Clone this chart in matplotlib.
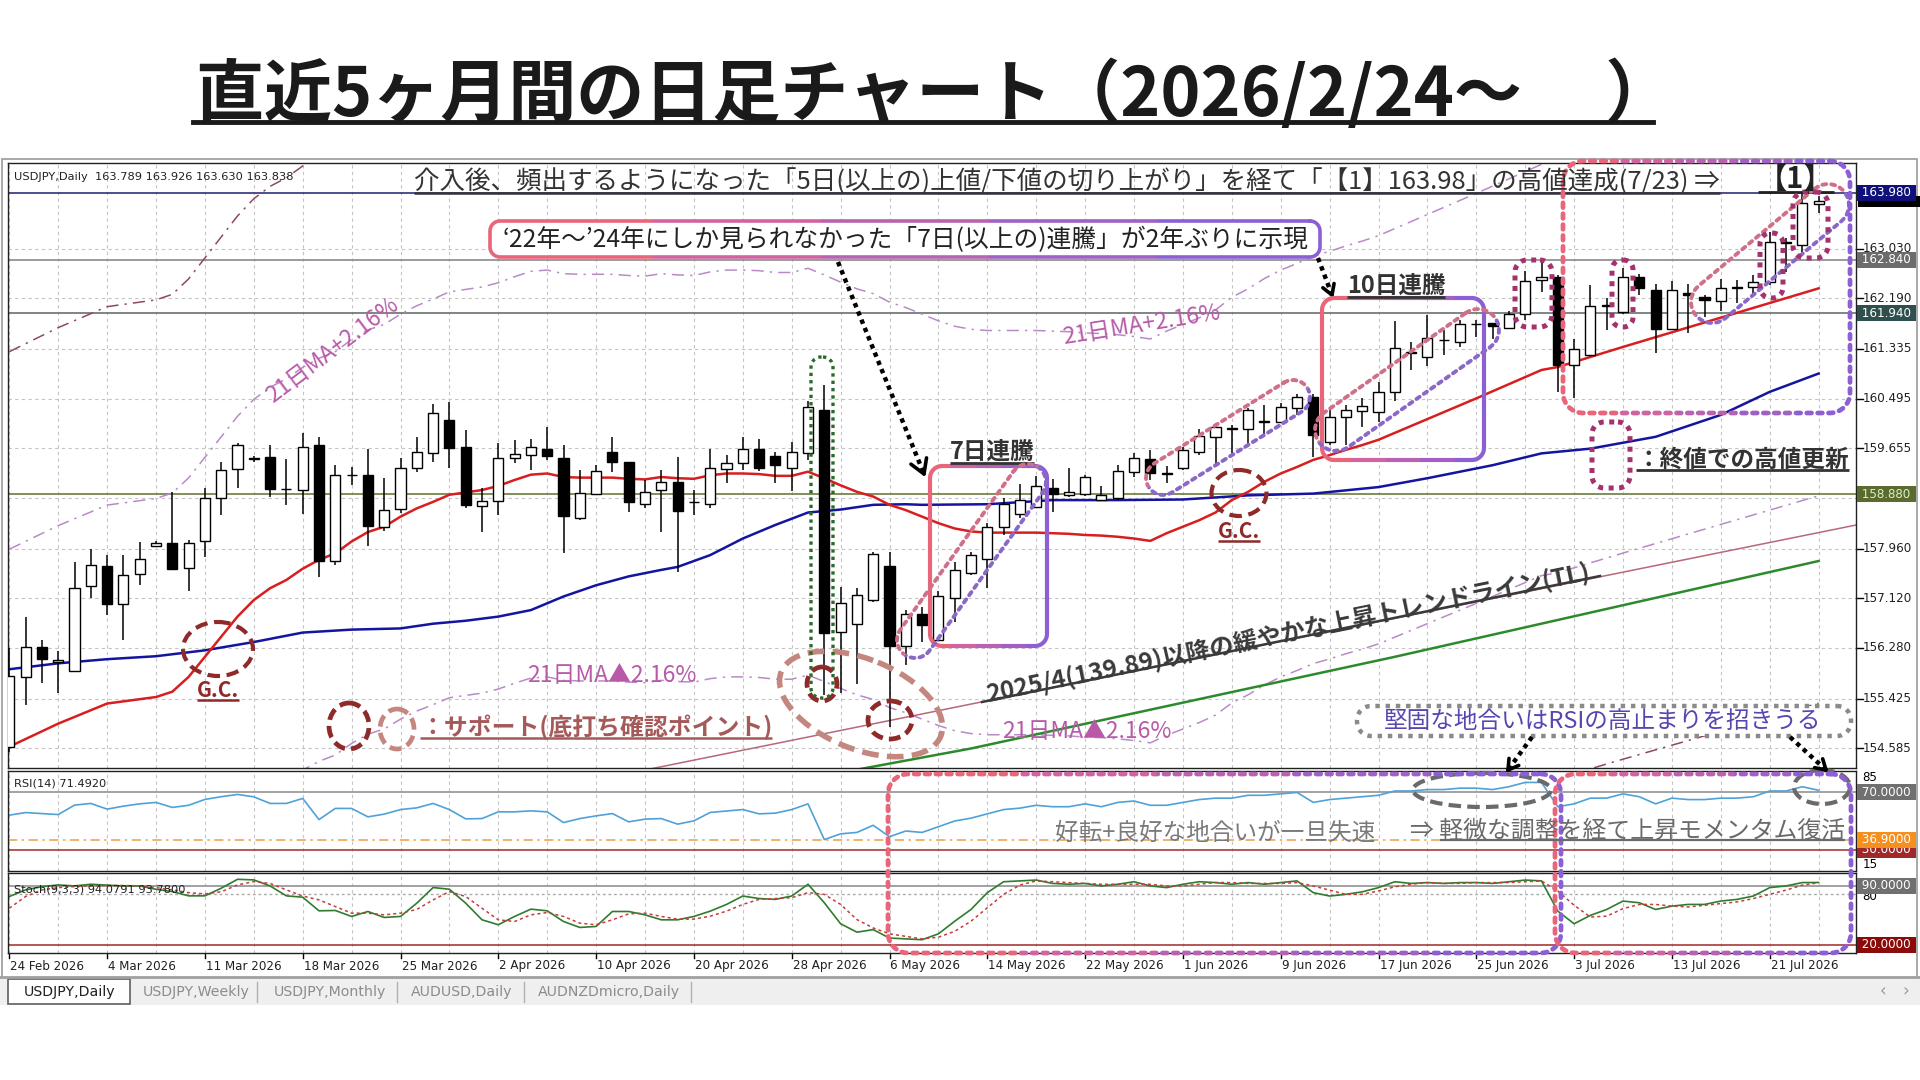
import numpy as np
import matplotlib
matplotlib.use('Agg')
import matplotlib.pyplot as plt
from matplotlib.patches import Rectangle, Ellipse, Polygon

plt.rcParams['font.family'] = ['Noto Sans CJK JP', 'DejaVu Sans']

# ---------------- data ----------------
date_labels = ['24 Feb 2026', '4 Mar 2026', '11 Mar 2026', '18 Mar 2026', '25 Mar 2026',
               '2 Apr 2026', '10 Apr 2026', '20 Apr 2026', '28 Apr 2026', '6 May 2026',
               '14 May 2026', '22 May 2026', '1 Jun 2026', '9 Jun 2026', '17 Jun 2026',
               '25 Jun 2026', '3 Jul 2026', '13 Jul 2026', '21 Jul 2026']

ohlc = [
    (154.60, 156.28, 154.52, 155.80), (155.79, 156.81, 155.31, 156.30), (156.29, 156.41, 155.68, 156.10),
    (156.05, 156.22, 155.52, 156.07), (155.89, 157.74, 155.87, 157.30), (157.33, 157.96, 157.12, 157.68),
    (157.66, 157.85, 156.84, 157.02), (157.02, 157.85, 156.42, 157.52), (157.53, 158.07, 157.34, 157.78),
    (158.00, 158.08, 157.98, 158.06), (158.06, 158.92, 157.60, 157.62), (157.64, 158.11, 157.25, 158.06),
    (158.08, 158.98, 157.82, 158.81), (158.82, 159.43, 158.53, 159.29), (159.30, 159.74, 158.99, 159.72),
    (159.48, 159.52, 159.43, 159.50), (159.51, 159.72, 158.84, 158.96), (158.96, 159.48, 158.70, 158.97),
    (158.95, 159.91, 158.55, 159.68), (159.72, 159.84, 157.48, 157.75), (157.75, 159.37, 157.68, 159.21),
    (159.20, 159.34, 159.03, 159.21), (159.20, 159.65, 158.01, 158.35), (158.32, 159.16, 158.26, 158.62),
    (158.63, 159.50, 158.56, 159.33), (159.33, 159.84, 159.26, 159.60), (159.57, 160.40, 159.43, 160.25),
    (160.13, 160.44, 159.32, 159.66), (159.67, 159.96, 158.64, 158.70), (158.68, 158.98, 158.24, 158.77),
    (158.77, 159.74, 158.53, 159.50), (159.50, 159.80, 159.40, 159.56), (159.54, 159.82, 159.29, 159.67),
    (159.64, 160.02, 159.46, 159.52), (159.50, 159.71, 157.88, 158.51), (158.48, 159.29, 158.44, 158.90),
    (158.89, 159.37, 158.86, 159.27), (159.60, 159.85, 159.26, 159.43), (159.43, 159.43, 158.58, 158.75),
    (158.72, 159.12, 158.64, 158.92), (158.95, 159.29, 158.24, 159.09), (159.09, 159.51, 157.57, 158.59),
    (158.74, 158.95, 158.53, 158.75), (158.71, 159.64, 158.64, 159.32), (159.30, 159.54, 159.07, 159.41),
    (159.41, 159.84, 159.29, 159.64), (159.64, 159.82, 159.28, 159.32), (159.52, 159.60, 159.07, 159.38),
    (159.32, 159.77, 158.93, 159.60), (159.57, 160.46, 159.45, 160.35), (160.30, 160.73, 155.48, 156.54),
    (156.55, 157.31, 155.51, 157.04), (156.68, 157.29, 155.67, 157.18), (157.09, 157.91, 157.06, 157.87),
    (157.67, 157.91, 154.95, 156.32), (156.32, 156.93, 155.99, 156.86), (156.85, 156.98, 156.38, 156.67),
    (156.42, 157.25, 156.42, 157.15), (157.13, 157.74, 156.72, 157.60), (157.55, 157.91, 157.51, 157.85),
    (157.78, 158.39, 157.29, 158.33), (158.33, 158.81, 158.19, 158.72), (158.54, 159.05, 158.47, 158.78),
    (158.66, 159.18, 158.64, 159.02), (158.98, 159.14, 158.58, 158.89), (158.86, 159.33, 158.84, 158.92),
    (158.89, 159.20, 158.85, 159.17), (158.78, 159.02, 158.77, 158.86), (158.82, 159.37, 158.78, 159.27),
    (159.26, 159.57, 159.17, 159.49), (159.47, 159.63, 159.12, 159.23), (159.22, 159.36, 159.07, 159.23),
    (159.33, 159.67, 159.29, 159.63), (159.60, 159.98, 159.54, 159.87), (159.84, 160.09, 159.36, 160.02),
    (159.99, 160.05, 159.57, 160.00), (159.99, 160.33, 159.71, 160.30), (160.10, 160.39, 159.85, 160.11),
    (160.10, 160.42, 160.08, 160.35), (160.33, 160.57, 160.22, 160.52), (160.52, 160.57, 159.51, 159.88),
    (159.77, 160.33, 159.71, 160.19), (160.19, 160.39, 159.71, 160.30), (160.29, 160.50, 160.02, 160.37),
    (160.27, 160.78, 160.10, 160.61), (160.60, 161.80, 160.45, 161.36), (161.27, 161.46, 160.98, 161.28),
    (161.20, 161.91, 161.05, 161.52), (161.48, 161.65, 161.24, 161.49), (161.46, 161.82, 161.37, 161.75),
    (161.75, 161.82, 161.54, 161.76), (161.77, 161.78, 161.51, 161.73), (161.69, 161.98, 161.68, 161.92),
    (161.92, 162.65, 161.82, 162.49), (162.50, 162.81, 162.30, 162.56), (162.56, 162.58, 160.61, 161.07),
    (161.06, 161.51, 160.51, 161.33), (161.24, 162.42, 161.24, 162.06), (162.07, 162.19, 161.65, 162.08),
    (161.96, 162.70, 161.92, 162.56), (162.56, 162.60, 162.25, 162.36), (162.33, 162.43, 161.26, 161.67),
    (161.67, 162.48, 161.65, 162.33), (162.29, 162.44, 161.60, 162.25), (162.21, 162.25, 161.88, 162.17),
    (162.15, 162.52, 161.98, 162.36), (162.37, 162.50, 162.11, 162.38), (162.39, 162.58, 162.22, 162.47),
    (162.46, 163.32, 162.42, 163.15), (163.13, 163.21, 162.64, 163.14), (163.10, 163.97, 162.98, 163.81),
    (163.789, 163.926, 163.630, 163.838),
]
opens = np.array([r[0] for r in ohlc]); highs = np.array([r[1] for r in ohlc])
lows = np.array([r[2] for r in ohlc]); closes = np.array([r[3] for r in ohlc])

# 21-day MA (red)
ma21_bars = [0, 3, 6, 9, 10, 11, 12, 13, 14, 15, 16, 17, 18, 19, 20, 21, 22, 23, 24, 25, 26, 27, 28,
             29, 30, 31, 32, 33, 34, 35, 36, 37, 38, 39, 40, 41, 42, 43, 44, 45, 46, 47, 48, 49, 50,
             51, 52, 53, 54, 55, 56, 57, 58, 59, 60, 61, 62, 63, 64, 65, 66, 67, 68, 69, 70, 71, 72,
             73, 74, 75, 76, 77, 78, 79, 80, 81, 82, 83, 84, 90, 94, 95, 99, 103, 107, 111]
ma21_vals = [154.61, 155.00, 155.34, 155.45, 155.54, 155.79, 156.13, 156.47, 156.81, 157.09, 157.29,
             157.43, 157.62, 157.77, 157.88, 158.08, 158.24, 158.33, 158.50, 158.64, 158.75, 158.87,
             158.91, 158.95, 159.02, 159.12, 159.21, 159.23, 159.17, 159.16, 159.16, 159.16, 159.14,
             159.13, 159.17, 159.15, 159.14, 159.20, 159.23, 159.23, 159.22, 159.19, 159.19, 159.26,
             159.15, 159.03, 158.92, 158.84, 158.70, 158.61, 158.50, 158.39, 158.30, 158.25, 158.23,
             158.23, 158.23, 158.23, 158.22, 158.21, 158.19, 158.18, 158.16, 158.13, 158.09, 158.22,
             158.33, 158.44, 158.57, 158.78, 158.92, 159.09, 159.23, 159.34, 159.46, 159.54, 159.63,
             159.71, 159.80, 160.50, 160.98, 161.03, 161.37, 161.70, 162.03, 162.36]
# blue MA
mab_bars = [0, 3, 6, 9, 12, 15, 18, 21, 24, 26, 28, 30, 32, 34, 36, 38, 40, 41, 43, 45, 47, 49, 51,
            53, 55, 56, 60, 64, 68, 72, 76, 80, 84, 87, 91, 94, 97, 101, 105, 108, 111]
mab_vals = [155.92, 156.02, 156.09, 156.14, 156.24, 156.38, 156.54, 156.59, 156.61, 156.69, 156.74,
            156.81, 156.92, 157.15, 157.34, 157.49, 157.60, 157.65, 157.85, 158.13, 158.36, 158.57,
            158.62, 158.70, 158.71, 158.70, 158.71, 158.78, 158.78, 158.79, 158.86, 158.89, 159.00,
            159.15, 159.37, 159.57, 159.65, 159.85, 160.22, 160.61, 160.92]
# green long MA
mag_bars = [50, 59, 85, 111]
mag_vals = [154.12, 154.58, 156.13, 157.75]
# trend line (TL)
tl_bars = [38, 113.5]
tl_vals = [154.16, 158.37]
env_pct = 2.16
env2_pct = 4.32

# RSI(14)
rsi_vals = [54.1, 55.9, 55.2, 54.5, 61.1, 62.3, 58.3, 60.4, 62.0, 63.0, 59.5, 61.0, 65.1, 67.0, 68.6,
            66.9, 62.3, 62.3, 65.8, 51.0, 58.8, 58.8, 52.9, 54.8, 58.0, 59.2, 62.3, 58.0, 51.5, 51.7,
            56.4, 56.4, 57.1, 56.4, 48.9, 51.7, 53.6, 55.2, 49.4, 51.3, 51.7, 47.8, 50.1, 56.0, 57.0,
            58.0, 55.0, 55.5, 58.0, 62.0, 37.0, 41.0, 42.0, 47.0, 39.0, 43.0, 42.0, 46.0, 50.0, 52.0,
            55.0, 58.0, 59.0, 61.0, 60.0, 60.0, 62.0, 60.0, 63.0, 64.0, 61.0, 61.0, 63.0, 65.0, 66.0,
            66.0, 68.0, 68.0, 69.0, 70.0, 63.0, 65.0, 66.0, 67.0, 68.0, 71.0, 71.0, 72.0, 72.0, 73.0,
            73.0, 72.0, 74.0, 77.0, 77.0, 60.0, 62.0, 66.0, 66.0, 69.0, 67.0, 62.0, 66.0, 65.0, 65.0,
            66.0, 66.0, 67.0, 71.0, 71.0, 74.0, 71.492]
# Stochastic(9,3,3)
stk_vals = [77.4, 85.3, 89.2, 91.2, 90.0, 92.0, 91.0, 90.0, 90.0, 86.0, 83.3, 78.2, 78.2, 87.3, 97.9,
            97.2, 90.0, 78.2, 76.6, 60.4, 60.8, 53.7, 59.6, 52.5, 53.7, 69.5, 88.1, 86.1, 69.5, 49.7,
            43.8, 53.7, 62.4, 60.4, 47.7, 40.6, 41.8, 59.6, 59.6, 55.6, 49.7, 49.7, 53.7, 60.0, 68.0,
            78.0, 75.0, 74.0, 78.0, 92.0, 70.0, 45.0, 35.0, 38.0, 28.0, 27.0, 26.0, 33.0, 48.0, 62.0,
            82.0, 95.0, 96.0, 97.0, 93.0, 92.0, 93.0, 90.0, 92.0, 95.0, 90.0, 88.0, 92.0, 95.0, 94.0,
            92.0, 94.0, 92.0, 94.0, 96.0, 82.0, 78.0, 80.0, 83.0, 88.0, 95.0, 93.0, 94.0, 93.0, 94.0,
            94.0, 93.0, 95.0, 97.0, 96.0, 60.0, 45.0, 55.0, 62.0, 72.0, 70.0, 62.0, 66.0, 68.0, 68.0,
            72.0, 74.0, 78.0, 88.0, 90.0, 94.0, 94.0791]
sig_vals = [63.5, 77.4, 85.3, 88.0, 89.2, 90.0, 90.5, 90.5, 90.0, 88.0, 85.3, 82.0, 80.5, 83.0, 91.2,
            95.2, 93.0, 85.3, 78.0, 73.4, 65.5, 57.6, 57.6, 55.6, 57.6, 62.0, 73.4, 83.3, 77.4, 63.5,
            49.7, 47.7, 55.6, 58.4, 53.7, 45.7, 43.8, 49.7, 56.8, 57.6, 53.7, 50.5, 50.5, 54.0, 60.0,
            68.0, 74.0, 75.0, 76.0, 82.0, 80.0, 68.0, 50.0, 40.0, 33.0, 30.0, 27.0, 29.0, 36.0, 48.0,
            64.0, 80.0, 91.0, 96.0, 95.0, 94.0, 93.0, 92.0, 92.0, 92.0, 92.0, 90.0, 90.0, 92.0, 94.0,
            94.0, 93.0, 93.0, 93.0, 94.0, 90.0, 85.0, 80.0, 80.0, 84.0, 89.0, 92.0, 94.0, 93.0, 93.0,
            94.0, 94.0, 94.0, 95.0, 96.0, 84.0, 67.0, 53.0, 54.0, 63.0, 68.0, 68.0, 66.0, 65.0, 67.0,
            69.0, 71.0, 75.0, 80.0, 85.0, 91.0, 93.78]

price_ticks = [163.030, 162.190, 161.335, 160.495, 159.655, 158.815, 157.960, 157.120, 156.280, 155.425, 154.585]
hidden_ticks = [158.815]
level_lines = [(163.980, '#10107a', 'white'), (162.840, '#6c6c6c', 'white'),
               (161.940, '#2f4f4f', 'white'), (158.880, '#5b6b30', '#d8f0c0')]
bid_price = 163.838

# ---------------- layout helpers ----------------
W, H = 1920, 1080
fig = plt.figure(figsize=(19.2, 10.8), dpi=100)
fig.patch.set_facecolor('white')

def rect(x0, y0, x1, y1):
    return [x0 / W, 1 - y1 / H, (x1 - x0) / W, (y1 - y0) / H]

bg = fig.add_axes([0, 0, 1, 1], zorder=0)
bg.set_xlim(0, W); bg.set_ylim(H, 0); bg.axis('off')

LX, RX = 8, 1856
X0, DX = 9.3, 16.3
xlim = ((LX - X0) / DX, (RX - X0) / DX)
ax = fig.add_axes(rect(LX, 163, RX, 768), zorder=2)
axr = fig.add_axes(rect(LX, 771, RX, 871), zorder=2)
axs = fig.add_axes(rect(LX, 873, RX, 953), zorder=2)
ov = fig.add_axes([0, 0, 1, 1], zorder=5)
ov.set_xlim(0, W); ov.set_ylim(H, 0); ov.axis('off'); ov.patch.set_alpha(0)

# window frame, tab bar
bg.add_patch(Rectangle((2, 159), 1915, 820, fc='white', ec='#9a9a9a', lw=1.2))
bg.add_patch(Rectangle((0, 977), W, 28, fc='#efefef', ec='none'))
bg.plot([0, W], [977, 977], color='#a0a0a0', lw=2)

n = len(closes)
xb = np.arange(n)
grid_bars = np.arange(0, n, 3)
for a in (ax, axr, axs):
    a.set_xlim(*xlim)
    a.set_xticks([]); a.set_yticks([])
    for s in a.spines.values():
        s.set_color('#202020'); s.set_linewidth(1.0)
    for gb in grid_bars:
        a.axvline(gb, color='#c4c4c4', lw=0.8, ls=(0, (3, 3)), zorder=0)

# ---------------- main panel ----------------
ax.set_ylim(154.25, 164.48)
for p in price_ticks:
    ax.axhline(p, color='#c4c4c4', lw=0.8, ls=(0, (3, 3)), zorder=0)
ax.axhline(163.98, color='#30307a', lw=1.2, zorder=1)
ax.axhline(162.84, color='#8a8a8a', lw=1.2, zorder=1)
ax.axhline(161.94, color='#6a7070', lw=1.2, zorder=1)
ax.axhline(158.88, color='#6b7b40', lw=1.2, zorder=1)

ma21_b = np.array(ma21_bars); ma21_v = np.array(ma21_vals)
ax.plot(ma21_b, ma21_v * (1 + env_pct / 100), color='#b98ac8', lw=1.1, ls=(0, (8, 4, 1.5, 4)), zorder=1)
ax.plot(ma21_b, ma21_v * (1 - env_pct / 100), color='#b98ac8', lw=1.1, ls=(0, (8, 4, 1.5, 4)), zorder=1)
ax.plot(ma21_b, ma21_v * (1 + env2_pct / 100), color='#8e4a5a', lw=1.1, ls=(0, (8, 4, 1.5, 4)), zorder=1)
ax.plot(ma21_b, ma21_v * (1 - env2_pct / 100), color='#8e4a5a', lw=1.1, ls=(0, (8, 4, 1.5, 4)), zorder=1)
ax.plot(tl_bars, tl_vals, color='#b86878', lw=1.1, zorder=1)
ax.plot(mag_bars, mag_vals, color='#2c8a2c', lw=1.8, zorder=2)
ax.plot(mab_bars, mab_vals, color='#1414a0', lw=1.8, zorder=2)
ax.plot(ma21_bars, ma21_vals, color='#d81e1e', lw=1.8, zorder=2)

up = closes >= opens
body_lo = np.minimum(opens, closes)
body_h = np.maximum(np.abs(closes - opens), 0.012)
ax.vlines(xb, lows, highs, color='black', lw=1.1, zorder=3)
ax.bar(xb, body_h, bottom=body_lo, width=0.62, color=np.where(up, 'white', 'black'),
       edgecolor='black', linewidth=1.0, zorder=4)

trans_m = ax.get_yaxis_transform()
for p in price_ticks:
    ax.plot([1.0, 1.004], [p, p], transform=trans_m, color='black', lw=1, clip_on=False)
    if p in hidden_ticks:
        continue
    ax.text(1.0035, p, '%.3f' % p, transform=trans_m, ha='left', va='center', fontsize=8.6,
            family='DejaVu Sans', color='#202020', clip_on=False)
# bid label (mostly hidden behind the 163.980 label)
ax.add_patch(Rectangle((1.0012, bid_price - 0.11), 0.034, 0.2, transform=trans_m, fc='black', ec='none',
                       clip_on=False, zorder=5))
for p, fc, tc in level_lines:
    ax.text(1.0012, p, ' %.3f ' % p, transform=trans_m, ha='left', va='center', fontsize=8.6,
            family='DejaVu Sans', color=tc, clip_on=False, zorder=6,
            bbox=dict(boxstyle='square,pad=0.12', fc=fc, ec='none'))

ax.text(0.003, 0.985, 'USDJPY,Daily  %.3f %.3f %.3f %.3f' % (opens[-1], highs[-1], lows[-1], closes[-1]),
        transform=ax.transAxes, ha='left', va='top', fontsize=8.2, family='DejaVu Sans', color='#202020')

# ---------------- RSI panel ----------------
axr.set_ylim(15, 85)
axr.axhline(70, color='#8a8a8a', lw=1.1)
axr.axhline(36.9, color='#e8a040', lw=1.1, ls=(0, (6, 3, 1.5, 3)))
axr.axhline(30, color='#a02828', lw=1.1)
axr.plot(xb, rsi_vals, color='#4ea2d8', lw=1.2)
axr.text(0.003, 0.93, 'RSI(14) %.4f' % rsi_vals[-1], transform=axr.transAxes, ha='left', va='top',
         fontsize=8.2, family='DejaVu Sans', color='#202020')
trans_r = axr.get_yaxis_transform()
axr.text(1.0035, 80.5, '85', transform=trans_r, ha='left', va='center', fontsize=8.6, family='DejaVu Sans', clip_on=False)
axr.text(1.0035, 19.5, '15', transform=trans_r, ha='left', va='center', fontsize=8.6, family='DejaVu Sans', clip_on=False)
for v, fc in [(70, '#707070'), (30, '#a02828'), (36.9, '#f5901e')]:
    axr.text(1.0012, v, ' %.4f ' % v, transform=trans_r, ha='left', va='center', fontsize=8.6,
             family='DejaVu Sans', color='white', clip_on=False,
             bbox=dict(boxstyle='square,pad=0.12', fc=fc, ec='none'))

# ---------------- Stochastic panel ----------------
axs.set_ylim(10.2, 105.4)
axs.axhline(90, color='#9a9a9a', lw=1.3)
axs.axhline(80, color='#aaaaaa', lw=1.0, ls=(0, (2, 2)))
axs.axhline(20, color='#a02828', lw=1.1)
axs.plot(xb, stk_vals, color='#2e7d2e', lw=1.2)
axs.plot(xb, sig_vals, color='#c83c3c', lw=1.1, ls=(0, (2, 2)))
axs.text(0.003, 0.86, 'Stoch(9,3,3) %.4f %.4f' % (stk_vals[-1], sig_vals[-1]), transform=axs.transAxes,
         ha='left', va='top', fontsize=8.2, family='DejaVu Sans', color='#202020')
trans_s = axs.get_yaxis_transform()
axs.text(1.0035, 77, '80', transform=trans_s, ha='left', va='center', fontsize=8.6, family='DejaVu Sans', clip_on=False)
for v, fc in [(90, '#707070'), (20, '#8b0a0a')]:
    axs.text(1.0012, v, ' %.4f ' % v, transform=trans_s, ha='left', va='center', fontsize=8.6,
             family='DejaVu Sans', color='white', clip_on=False,
             bbox=dict(boxstyle='square,pad=0.12', fc=fc, ec='none'))

# date axis
NARROW = ['Liberation Sans Narrow', 'DejaVu Sans']
for i, lab in enumerate(date_labels):
    b = i * 6
    px = X0 + b * DX
    bg.plot([px, px], [953, 958], color='black', lw=1)
    bg.text(px + 1, 966, lab, ha='left', va='center', fontsize=8.6, family=NARROW, color='#202020')

# tabs
tabs = [('USDJPY,Daily', 24), ('USDJPY,Weekly', 143), ('USDJPY,Monthly', 274), ('AUDUSD,Daily', 411), ('AUDNZDmicro,Daily', 538)]
bg.add_patch(Rectangle((8, 979), 122, 25, fc='white', ec='#606060', lw=1.2))
for j, (t, tx) in enumerate(tabs):
    bg.text(tx, 992, t, ha='left', va='center', fontsize=10.2, family=NARROW,
            color='#202020' if j == 0 else '#8c8c8c')
for sx in [257, 397, 524, 691]:
    bg.plot([sx, sx], [982, 1002], color='#b0b0b0', lw=1)
bg.text(1883, 991, '‹', fontsize=12, color='#999999', ha='center', va='center', family='DejaVu Sans')
bg.text(1906, 991, '›', fontsize=12, color='#999999', ha='center', va='center', family='DejaVu Sans')

# ---------------- annotations (overlay, pixel coords) ----------------
R = fig.canvas.get_renderer()
PINK, MID, PURP = '#e8657a', '#b862b0', '#8c5fd4'
GRAD = [PINK, '#d063a0', MID, '#a060c4', PURP]
DOT = (0, (1, 1.3))

def underline(t, color, lw=1.6, off=1.0, x0=None, x1=None):
    bb = t.get_window_extent(renderer=R)
    yb = H - bb.y0 + off
    ov.plot([bb.x0 if x0 is None else x0, bb.x1 if x1 is None else x1], [yb, yb], color=color, lw=lw,
            solid_capstyle='butt')

def rrect_pts(x0, y0, x1, y1, r, k=10):
    pts = []
    corners = [(x1 - r, y0 + r, -90, 0), (x1 - r, y1 - r, 0, 90), (x0 + r, y1 - r, 90, 180), (x0 + r, y0 + r, 180, 270)]
    for cx, cy, a0, a1 in corners:
        for a in np.linspace(np.radians(a0), np.radians(a1), k):
            pts.append((cx + r * np.cos(a), cy + r * np.sin(a)))
    pts.append(pts[0])
    return np.array(pts)

def capsule_pts(p1, p2, r, k=16):
    p1 = np.array(p1, float); p2 = np.array(p2, float)
    d = p2 - p1; ang = np.arctan2(d[1], d[0])
    pts = []
    for a in np.linspace(ang - np.pi / 2, ang + np.pi / 2, k):
        pts.append(p2 + r * np.array([np.cos(a), np.sin(a)]))
    for a in np.linspace(ang + np.pi / 2, ang + 3 * np.pi / 2, k):
        pts.append(p1 + r * np.array([np.cos(a), np.sin(a)]))
    pts.append(pts[0])
    return np.array(pts)

def grad_draw(pts, colors, lw, ls, xr=None):
    xs, ys = pts[:, 0], pts[:, 1]
    a, b = (xs.min() - 5, xs.max() + 5) if xr is None else xr
    edges = np.linspace(a, b, len(colors) + 1)
    for c, e0, e1 in zip(colors, edges[:-1], edges[1:]):
        ln, = ov.plot(xs, ys, color=c, lw=lw, ls=ls, solid_capstyle='round', dash_capstyle='round')
        clip = Rectangle((e0, 0), e1 - e0, H, transform=ov.transData)
        ln.set_clip_path(clip)

def side_draw(pts, p1, p2, c_up, c_dn, lw, ls):
    p1 = np.array(p1, float); p2 = np.array(p2, float)
    d = (p2 - p1) / np.linalg.norm(p2 - p1)
    nrm = np.array([d[1], -d[0]])
    far = 2000
    up_poly = [p1 - d * far, p2 + d * far, p2 + d * far + nrm * far, p1 - d * far + nrm * far]
    dn_poly = [p1 - d * far, p2 + d * far, p2 + d * far - nrm * far, p1 - d * far - nrm * far]
    for c, poly in [(c_up, up_poly), (c_dn, dn_poly)]:
        ln, = ov.plot(pts[:, 0], pts[:, 1], color=c, lw=lw, ls=ls, dash_capstyle='round')
        pp = Polygon(poly, closed=True, transform=ov.transData)
        ln.set_clip_path(pp)

def dotted_arrow(p0, p1, color='black', lw=3.2, head=14):
    ov.plot([p0[0], p1[0]], [p0[1], p1[1]], color=color, lw=lw, ls=(0, (1, 1)))
    v = np.array(p1, float) - np.array(p0, float); v /= np.linalg.norm(v)
    nv = np.array([-v[1], v[0]])
    for s in (1, -1):
        q = np.array(p1) - v * head + nv * head * 0.6 * s
        ov.plot([q[0], p1[0]], [q[1], p1[1]], color=color, lw=2.6, solid_capstyle='round')

# title
ov.text(196, 116, '直近5ヶ月間の日足チャート（2026/2/24〜　 ）', fontsize=49, fontweight='bold',
        color='#1a1a1a', ha='left', va='baseline')
ov.plot([193, 1653], [122, 122], color='#1a1a1a', lw=3.5)

# top annotation
t1 = ov.text(414, 189, '介入後、頻出するようになった「5日(以上の)上値/下値の切り上がり」を経て「【1】163.98」の高値達成(7/23) ⇒',
             fontsize=18.4, color='#333333', ha='left', va='baseline')
underline(t1, '#333333', lw=1.8, off=-2)
t1b = ov.text(1758, 188, '【1】', fontsize=21, fontweight='bold', color='#222222', ha='left', va='baseline')
underline(t1b, '#222222', lw=2, off=-2)

# box: 7-day rally note
box_pts = rrect_pts(490, 221, 1320, 257, 10)
ov.add_patch(Polygon(box_pts, closed=True, fc='white', ec='none', zorder=0.5))
grad_draw(box_pts, GRAD, 2.6, '-')
ov.text(905, 240, '‘22年〜’24年にしか見られなかった「7日(以上の)連騰」が2年ぶりに示現', fontsize=17.8,
        color='#222222', ha='center', va='center')
dotted_arrow((838, 262), (924, 474))
dotted_arrow((1318, 258), (1332, 295), head=10)

# 7-day and 10-day boxes
grad_draw(rrect_pts(930, 466, 1047, 646, 12), GRAD, 3.0, '-')
t7 = ov.text(992, 459, '7日連騰', fontsize=17, fontweight='bold', color='#333333', ha='center', va='baseline')
underline(t7, '#333333', lw=2, off=-1)
grad_draw(rrect_pts(1322, 298, 1484, 460, 12), GRAD, 3.0, '-')
t10 = ov.text(1396, 293, '10日連騰', fontsize=17, fontweight='bold', color='#333333', ha='center', va='baseline')
underline(t10, '#333333', lw=2, off=-1)

# rising capsules
for p1, p2, r in [((915, 640), (1028, 482), 18), ((1163, 478), (1293, 397), 17),
                  ((1336, 430), (1478, 330), 21), ((1712, 302), (1828, 205), 21)]:
    side_draw(capsule_pts(p1, p2, r), p1, p2, '#d07088', '#8a68c8', 2.8, DOT)

# big dotted boxes
grad_draw(rrect_pts(1563, 161, 1850, 413, 20), GRAD, 3.4, DOT)
grad_draw(rrect_pts(888, 774, 1561, 953, 20), GRAD, 3.4, DOT)
grad_draw(rrect_pts(1555, 774, 1851, 953, 20), GRAD, 3.4, DOT)

# close-high markers (magenta dotted)
MAG = '#a3326e'
for x0, y0, x1, y1 in [(1515, 260, 1552, 327), (1612, 260, 1633, 327), (1760, 233, 1783, 298),
                       (1793, 192, 1828, 258), (1592, 422, 1630, 488)]:
    pts = rrect_pts(x0, y0, x1, y1, min(12, (x1 - x0) / 2 - 1))
    ov.plot(pts[:, 0], pts[:, 1], color=MAG, lw=3.6, ls=(0, (1, 1.1)))
tk = ov.text(1636, 467, '：終値での高値更新', fontsize=17, fontweight='bold', color='#333333', ha='left', va='baseline')
underline(tk, '#333333', lw=2, off=-2)

# green dotted around the long candle
pts = rrect_pts(811, 357, 833, 698, 10)
ov.plot(pts[:, 0], pts[:, 1], color='#2a6a2a', lw=2.4, ls=(0, (1, 1.2)))

# G.C. marks
DRED = '#8e2a2a'
LRED = '#c4877f'
for (cx, cy, w, h), (tx, ty) in [((218, 649, 70, 54), (218, 697)), ((1239, 493, 55, 46), (1239, 538))]:
    ov.add_patch(Ellipse((cx, cy), w, h, fc='none', ec=DRED, lw=3, ls=(0, (3, 1.6))))
    tg = ov.text(tx, ty, 'G.C.', fontsize=15, fontweight='bold', color=DRED, ha='center', va='baseline')
    underline(tg, DRED, lw=1.8, off=-1)

# support marks
ov.add_patch(Ellipse((861, 704), 172, 90, angle=22, fc='none', ec=LRED, lw=4, ls=(0, (3, 1.5))))
ov.add_patch(Ellipse((822, 684), 30, 34, fc='none', ec=DRED, lw=3.4, ls=(0, (2.5, 1.3))))
ov.add_patch(Ellipse((890, 720), 44, 38, fc='none', ec=DRED, lw=3.4, ls=(0, (2.5, 1.3))))
ov.add_patch(Ellipse((349, 726), 40, 46, fc='none', ec=DRED, lw=3.4, ls=(0, (2.5, 1.3))))
ov.add_patch(Ellipse((397, 729), 34, 40, fc='none', ec=LRED, lw=3.4, ls=(0, (2.5, 1.3))))
ts = ov.text(420, 735, '：サポート(底打ち確認ポイント)', fontsize=17.2, fontweight='bold', color='#a55a5a',
             ha='left', va='baseline')
underline(ts, '#a55a5a', lw=1.8, off=-2)

# envelope labels
ENV = '#b85aa8'
ov.text(333, 350, '21日MA+2.16%', fontsize=16.5, color=ENV, ha='center', va='center', rotation=37)
ov.text(1141, 325, '21日MA+2.16%', fontsize=16.5, color=ENV, ha='center', va='center', rotation=9)
for cx, cy in [(612, 676), (1087, 731)]:
    ov.text(cx, cy, '21日MA▲2.16%', fontsize=16.5, color=ENV, ha='center', va='center')

# TL label
ov.text(1288, 633, '2025/4(139.89)以降の緩やかな上昇トレンドライン(TL)', fontsize=17.5, fontweight='bold',
        color='#3a3a3a', ha='center', va='center', rotation=11.5, rotation_mode='anchor')
ov.plot([982, 1600], [702, 576], color='#3a3a3a', lw=1.8)

# RSI notes
gbox = rrect_pts(1357, 706, 1851, 736, 14)
ov.add_patch(Polygon(gbox, closed=True, fc='white', ec='none'))
ov.plot(gbox[:, 0], gbox[:, 1], color='#8a8a8a', lw=3.2, ls=DOT)
ov.text(1603, 722, '堅固な地合いはRSIの高止まりを招きうる', fontsize=17, color='#5546b0', ha='center', va='center')
dotted_arrow((1532, 737), (1508, 770), head=10)
dotted_arrow((1790, 737), (1826, 770), head=10)
ov.add_patch(Ellipse((1482, 790), 138, 34, fc='none', ec='#6a6a6a', lw=3, ls=(0, (3, 1.5))))
ov.add_patch(Ellipse((1822, 787), 56, 34, fc='none', ec='#6a6a6a', lw=3, ls=(0, (3, 1.5))))
ov.text(1055, 833, '好転+良好な地合いが一旦失速', fontsize=17, color='#7a7a7a', ha='left', va='center')
tr = ov.text(1410, 831, '⇒ 軽微な調整を経て上昇モメンタム復活', fontsize=17.2, color='#6a6a6a', ha='left', va='center')
underline(tr, '#6a6a6a', lw=1.6, off=-3, x0=1440)

fig.savefig('out.png', dpi=100, facecolor='white')
